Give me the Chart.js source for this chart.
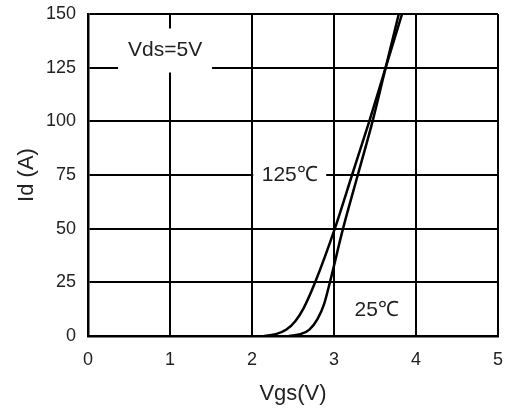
<!DOCTYPE html>
<html>
<head>
<meta charset="utf-8">
<script src="https://cdn.jsdelivr.net/npm/chart.js@4"></script>
<style>
  html, body { margin: 0; padding: 0; background: #fff; }
  #wrap { width: 505px; height: 410px; }
</style>
</head>
<body>
<div id="wrap"><canvas id="myChart" width="505" height="410"></canvas></div>
<script>
// Transfer characteristics
var vgs125 = [2.15, 2.3, 2.42, 2.53, 2.63, 2.77, 3.01, 3.22, 3.43, 3.63, 3.83];
var id125 = [0, 1, 3, 7, 13, 25, 50, 75, 100, 125, 150];
var vgs25 = [2.45, 2.6, 2.7, 2.8, 2.88, 2.95, 3.11, 3.29, 3.47, 3.63, 3.79];
var id25 = [0, 1, 3, 8, 15, 25, 50, 75, 100, 125, 150];

var xTicks = [0, 1, 2, 3, 4, 5];
var yTicks = [0, 25, 50, 75, 100, 125, 150];

// text labels in data coordinates
var notes = [
  { text: "Vds=5V", x: 0.94, y: 133, box: [94, 44] },
  { text: "125\u2103", x: 2.46, y: 75, box: [73, 22] },
  { text: "25\u2103", x: 3.52, y: 12, box: null }
];

function toPoints(xs, ys) {
  return xs.map(function(v, i) { return { x: v, y: ys[i] }; });
}

var notePlugin = {
  id: "notes",
  afterDraw: function(chart) {
    var ctx = chart.ctx;
    var sx = chart.scales.x, sy = chart.scales.y;
    ctx.save();
    ctx.font = "21px 'Liberation Sans', Arial, sans-serif";
    ctx.textAlign = "center";
    ctx.textBaseline = "middle";
    notes.forEach(function(n) {
      var px = sx.getPixelForValue(n.x);
      var py = sy.getPixelForValue(n.y);
      if (n.box) {
        ctx.fillStyle = "#fff";
        ctx.fillRect(px - n.box[0] / 2, py - n.box[1] / 2, n.box[0], n.box[1]);
      }
      ctx.fillStyle = "#222";
      ctx.fillText(n.text, px, py);
    });
    ctx.restore();
  }
};

var ctx = document.getElementById("myChart").getContext("2d");
new Chart(ctx, {
  type: "scatter",
  data: {
    datasets: [
      {
        label: "125C",
        data: toPoints(vgs125, id125),
        showLine: true,
        borderColor: "#000",
        borderWidth: 2.5,
        pointRadius: 0,
        cubicInterpolationMode: "monotone"
      },
      {
        label: "25C",
        data: toPoints(vgs25, id25),
        showLine: true,
        borderColor: "#000",
        borderWidth: 2.5,
        pointRadius: 0,
        cubicInterpolationMode: "monotone"
      }
    ]
  },
  options: {
    responsive: false,
    animation: false,
    layout: { padding: { top: 14, right: 7, left: 0, bottom: 0 } },
    plugins: {
      legend: { display: false },
      tooltip: { enabled: false }
    },
    scales: {
      x: {
        min: 0,
        max: 5,
        afterFit: function(scale) {
          scale.height = 74;
          scale.paddingLeft = 0;
          scale.paddingRight = 0;
        },
        afterBuildTicks: function(scale) {
          scale.ticks = xTicks.map(function(v) { return { value: v }; });
        },
        grid: { color: "#000", lineWidth: 2, drawTicks: false },
        border: { color: "#000", width: 2.5 },
        ticks: {
          padding: 13,
          color: "#222",
          font: { family: "'Liberation Sans', Arial, sans-serif", size: 18 }
        },
        title: {
          display: true,
          text: "Vgs(V)",
          color: "#222",
          padding: { top: 0, bottom: 3 },
          font: { family: "'Liberation Sans', Arial, sans-serif", size: 22 }
        }
      },
      y: {
        min: 0,
        max: 150,
        afterFit: function(scale) {
          scale.width = 88;
          scale.paddingTop = 0;
          scale.paddingBottom = 0;
        },
        afterBuildTicks: function(scale) {
          scale.ticks = yTicks.map(function(v) { return { value: v }; });
        },
        grid: { color: "#000", lineWidth: 2, drawTicks: false },
        border: { color: "#000", width: 2.5 },
        ticks: {
          padding: 12,
          color: "#222",
          font: { family: "'Liberation Sans', Arial, sans-serif", size: 18 }
        },
        title: {
          display: true,
          text: "Id (A)",
          color: "#222",
          padding: { top: 14, bottom: 14 },
          font: { family: "'Liberation Sans', Arial, sans-serif", size: 22 }
        }
      }
    }
  },
  plugins: [notePlugin]
});
</script>
</body>
</html>
